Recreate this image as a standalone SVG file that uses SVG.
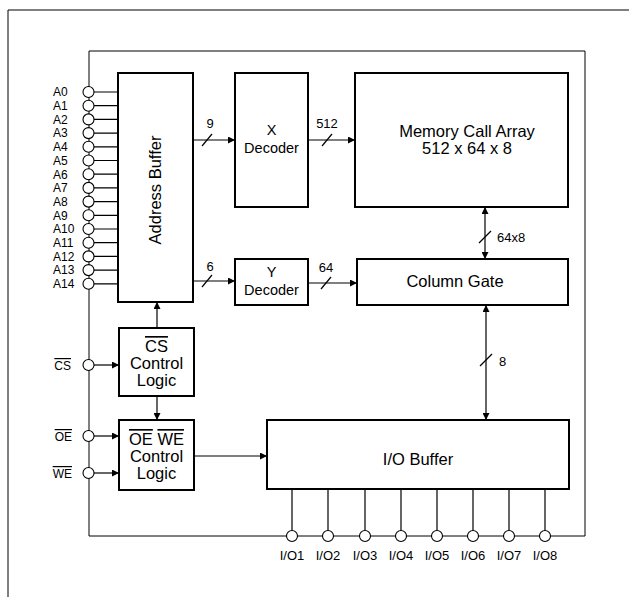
<svg xmlns="http://www.w3.org/2000/svg" width="629" height="597" viewBox="0 0 629 597">
<style>
.box{fill:#fff;stroke:#000;stroke-width:2}
.frame{fill:none;stroke:#000;stroke-width:1}
.ln{fill:none;stroke:#000;stroke-width:1.2}
.pin{fill:#fff;stroke:#000;stroke-width:1.1}
.t{font-family:"Liberation Sans",Arial,sans-serif;font-size:16.5px;fill:#000;text-anchor:middle}
.d{font-size:14.5px}
.s{font-family:"Liberation Sans",Arial,sans-serif;font-size:12px;fill:#000}
.io{font-family:"Liberation Sans",Arial,sans-serif;font-size:13px;fill:#000;text-anchor:middle}
.n{font-family:"Liberation Sans",Arial,sans-serif;font-size:13px;fill:#000}
.ol{text-decoration:overline}
</style>
<defs>
<marker id="ah" viewBox="0 0 10 10" refX="10" refY="5" markerWidth="9" markerHeight="7" markerUnits="userSpaceOnUse" orient="auto-start-reverse">
<path d="M0,0 L10,5 L0,10 z" fill="#000"/>
</marker>
</defs>
<rect width="629" height="597" fill="#fff"/>
<g id="outer-frame">
<path class="frame" d="M8,597 V10 H629" stroke-width="1.5"/>
</g>
<g id="inner-frame">
<path class="frame" d="M89,51 H585 V536 H89 Z"/>
</g>
<g id="connectors">
<path class="ln" d="M93,92 H118 M93,105.7 H118 M93,119.4 H118 M93,133.1 H118 M93,146.8 H118 M93,160.5 H118 M93,174.2 H118 M93,187.9 H118 M93,201.6 H118 M93,215.3 H118 M93,229 H118 M93,242.7 H118 M93,256.4 H118 M93,270.1 H118 M93,283.8 H118"/>
<line class="ln" x1="193" y1="140" x2="235" y2="140" marker-end="url(#ah)"/>
<line class="ln" x1="202" y1="146" x2="212" y2="134"/>
<line class="ln" x1="193" y1="281" x2="235" y2="281" marker-end="url(#ah)"/>
<line class="ln" x1="202" y1="287" x2="212" y2="275"/>
<line class="ln" x1="308" y1="140" x2="355" y2="140" marker-end="url(#ah)"/>
<line class="ln" x1="322" y1="146" x2="332" y2="134"/>
<line class="ln" x1="308" y1="283" x2="357" y2="283" marker-end="url(#ah)"/>
<line class="ln" x1="321" y1="289" x2="331" y2="277"/>
<line class="ln" x1="485" y1="207" x2="485" y2="259" marker-start="url(#ah)" marker-end="url(#ah)"/>
<line class="ln" x1="479" y1="243" x2="491" y2="231"/>
<line class="ln" x1="486" y1="305" x2="486" y2="420" marker-start="url(#ah)" marker-end="url(#ah)"/>
<line class="ln" x1="480" y1="366" x2="492" y2="354"/>
<line class="ln" x1="157" y1="328" x2="157" y2="302" marker-end="url(#ah)"/>
<line class="ln" x1="157" y1="396" x2="157" y2="420" marker-end="url(#ah)"/>
<line class="ln" x1="94" y1="365" x2="119" y2="365" marker-end="url(#ah)"/>
<line class="ln" x1="94" y1="436" x2="119" y2="436" marker-end="url(#ah)"/>
<line class="ln" x1="94" y1="473" x2="119" y2="473" marker-end="url(#ah)"/>
<line class="ln" x1="194" y1="456" x2="267" y2="456" marker-end="url(#ah)"/>
<path class="ln" d="M292,489 V530.5 M328,489 V530.5 M365,489 V530.5 M401,489 V530.5 M437,489 V530.5 M473,489 V530.5 M509,489 V530.5 M545,489 V530.5"/>
<text class="n" x="210" y="128" text-anchor="middle">9</text>
<text class="n" x="210" y="271" text-anchor="middle">6</text>
<text class="n" x="327" y="128" text-anchor="middle">512</text>
<text class="n" x="326" y="272" text-anchor="middle">64</text>
<text class="n" x="497" y="242">64x8</text>
<text class="n" x="499" y="366">8</text>
</g>
<g id="address-pins">
<circle class="pin" cx="88.5" cy="92" r="5.5"/><circle class="pin" cx="88.5" cy="105.7" r="5.5"/><circle class="pin" cx="88.5" cy="119.4" r="5.5"/><circle class="pin" cx="88.5" cy="133.1" r="5.5"/><circle class="pin" cx="88.5" cy="146.8" r="5.5"/><circle class="pin" cx="88.5" cy="160.5" r="5.5"/><circle class="pin" cx="88.5" cy="174.2" r="5.5"/><circle class="pin" cx="88.5" cy="187.9" r="5.5"/><circle class="pin" cx="88.5" cy="201.6" r="5.5"/><circle class="pin" cx="88.5" cy="215.3" r="5.5"/><circle class="pin" cx="88.5" cy="229" r="5.5"/><circle class="pin" cx="88.5" cy="242.7" r="5.5"/><circle class="pin" cx="88.5" cy="256.4" r="5.5"/><circle class="pin" cx="88.5" cy="270.1" r="5.5"/><circle class="pin" cx="88.5" cy="283.8" r="5.5"/>
<text class="s" x="53" y="96.3">A0</text><text class="s" x="53" y="110">A1</text><text class="s" x="53" y="123.7">A2</text><text class="s" x="53" y="137.4">A3</text><text class="s" x="53" y="151.1">A4</text><text class="s" x="53" y="164.8">A5</text><text class="s" x="53" y="178.5">A6</text><text class="s" x="53" y="192.2">A7</text><text class="s" x="53" y="205.9">A8</text><text class="s" x="53" y="219.6">A9</text><text class="s" x="53" y="233.3">A10</text><text class="s" x="53" y="247">A11</text><text class="s" x="53" y="260.7">A12</text><text class="s" x="53" y="274.4">A13</text><text class="s" x="53" y="288.1">A14</text>
</g>
<g id="control-pins">
<circle class="pin" cx="88.5" cy="365" r="5.5"/><circle class="pin" cx="88.5" cy="436" r="5.5"/><circle class="pin" cx="88.5" cy="473" r="5.5"/>
<text class="s" x="71" y="370" text-anchor="end"><tspan class="ol">CS</tspan></text>
<text class="s" x="72" y="441" text-anchor="end"><tspan class="ol">OE</tspan></text>
<text class="s" x="72" y="478" text-anchor="end"><tspan class="ol">WE</tspan></text>
</g>
<g id="io-pins">
<circle class="pin" cx="292" cy="536" r="5.5"/><circle class="pin" cx="328" cy="536" r="5.5"/><circle class="pin" cx="365" cy="536" r="5.5"/><circle class="pin" cx="401" cy="536" r="5.5"/><circle class="pin" cx="437" cy="536" r="5.5"/><circle class="pin" cx="473" cy="536" r="5.5"/><circle class="pin" cx="509" cy="536" r="5.5"/><circle class="pin" cx="545" cy="536" r="5.5"/>
<text class="io" x="292" y="559.5">I/O1</text><text class="io" x="328" y="559.5">I/O2</text><text class="io" x="365" y="559.5">I/O3</text><text class="io" x="401" y="559.5">I/O4</text><text class="io" x="437" y="559.5">I/O5</text><text class="io" x="473" y="559.5">I/O6</text><text class="io" x="509" y="559.5">I/O7</text><text class="io" x="545" y="559.5">I/O8</text>
</g>
<g id="address-buffer">
<rect class="box" x="118" y="73" width="75" height="229"/>
<text class="t" transform="translate(161,190) rotate(-90)">Address Buffer</text>
</g>
<g id="x-decoder">
<rect class="box" x="235" y="73" width="73" height="134"/>
<text class="t d" x="271.5" y="135">X</text>
<text class="t d" x="271.5" y="153">Decoder</text>
</g>
<g id="memory-array">
<rect class="box" x="355" y="73" width="213" height="134"/>
<text class="t" x="467" y="137">Memory Call Array</text>
<text class="t" x="467" y="154">512 x 64 x 8</text>
</g>
<g id="y-decoder">
<rect class="box" x="235" y="259" width="73" height="46"/>
<text class="t d" x="271.5" y="277">Y</text>
<text class="t d" x="271.5" y="295">Decoder</text>
</g>
<g id="column-gate">
<rect class="box" x="357" y="259" width="211" height="46"/>
<text class="t" x="455" y="287">Column Gate</text>
</g>
<g id="cs-control">
<rect class="box" x="119" y="328" width="75" height="68"/>
<text class="t" x="156.5" y="352"><tspan class="ol">CS</tspan></text>
<text class="t" x="156.5" y="369">Control</text>
<text class="t" x="156.5" y="386">Logic</text>
</g>
<g id="oe-we-control">
<rect class="box" x="119" y="420" width="75" height="70"/>
<text class="t" x="156.5" y="445"><tspan class="ol">OE</tspan> <tspan class="ol">WE</tspan></text>
<text class="t" x="156.5" y="462">Control</text>
<text class="t" x="156.5" y="479">Logic</text>
</g>
<g id="io-buffer">
<rect class="box" x="267" y="420" width="302" height="69"/>
<text class="t" x="418" y="465">I/O Buffer</text>
</g>
</svg>
